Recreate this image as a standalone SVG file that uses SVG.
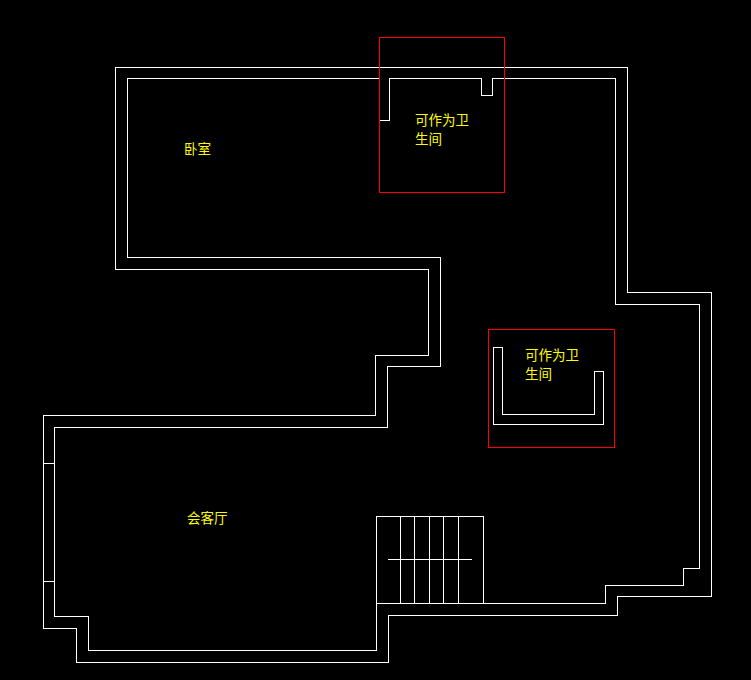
<svg xmlns="http://www.w3.org/2000/svg" width="751" height="680" viewBox="0 0 751 680">
<style>
.w{fill:none;stroke:#fff;stroke-width:1;shape-rendering:crispEdges}
.r{fill:none;stroke:#f00;stroke-width:1;shape-rendering:crispEdges}
text{fill:#ff0;font-family:"Noto Sans CJK SC","DejaVu Sans",sans-serif;font-size:13.5px}
</style>
<rect width="751" height="680" fill="#000"/>
<g id="walls">
<path class="w" d="M115.5 67.5H627.5V292.5H711.5V596.5H617.5V615.5H388.5V662.5H76.5V628.5H43.5V415.5H375.5V355.5H428.5V269.5H115.5Z"/>
<path class="w" d="M379.5 78.5H127.5V257.5H440.5V366.5H387.5V427.5H54.5V616.5H88.5V650.5H376.5V603.5H605.5V585.5H683.5V568.5H699.5V304.5H615.5V78.5H492.5V95.5H481.5V78.5H389.5V120.5H379.5"/>
<path class="w" d="M43.5 463.5H54.5M43.5 581.5H54.5"/>
</g>
<g id="stairs">
<path class="w" d="M376.5 603.5V516.5H483.5V603.5"/>
<path class="w" d="M400.5 516.5V603.5M414.5 516.5V603.5M429.5 516.5V603.5M443.5 516.5V603.5M458.5 516.5V603.5M387.5 559.5H471.5"/>
</g>
<g id="shaft">
<path class="w" d="M493.5 347.5H502.5V414.5H594.5V371.5H603.5V424.5H493.5Z"/>
</g>
<g id="bath1">
<rect class="r" x="379.5" y="37.5" width="125" height="155"/>
<text x="415" y="125">可作为卫</text>
<text x="415" y="144">生间</text>
</g>
<g id="bath2">
<rect class="r" x="488.5" y="329.5" width="126" height="118"/>
<text x="525" y="360">可作为卫</text>
<text x="525" y="379">生间</text>
</g>
<g id="bedroom"><text x="184" y="154">卧室</text></g>
<g id="lounge"><text x="187" y="523">会客厅</text></g>
</svg>
